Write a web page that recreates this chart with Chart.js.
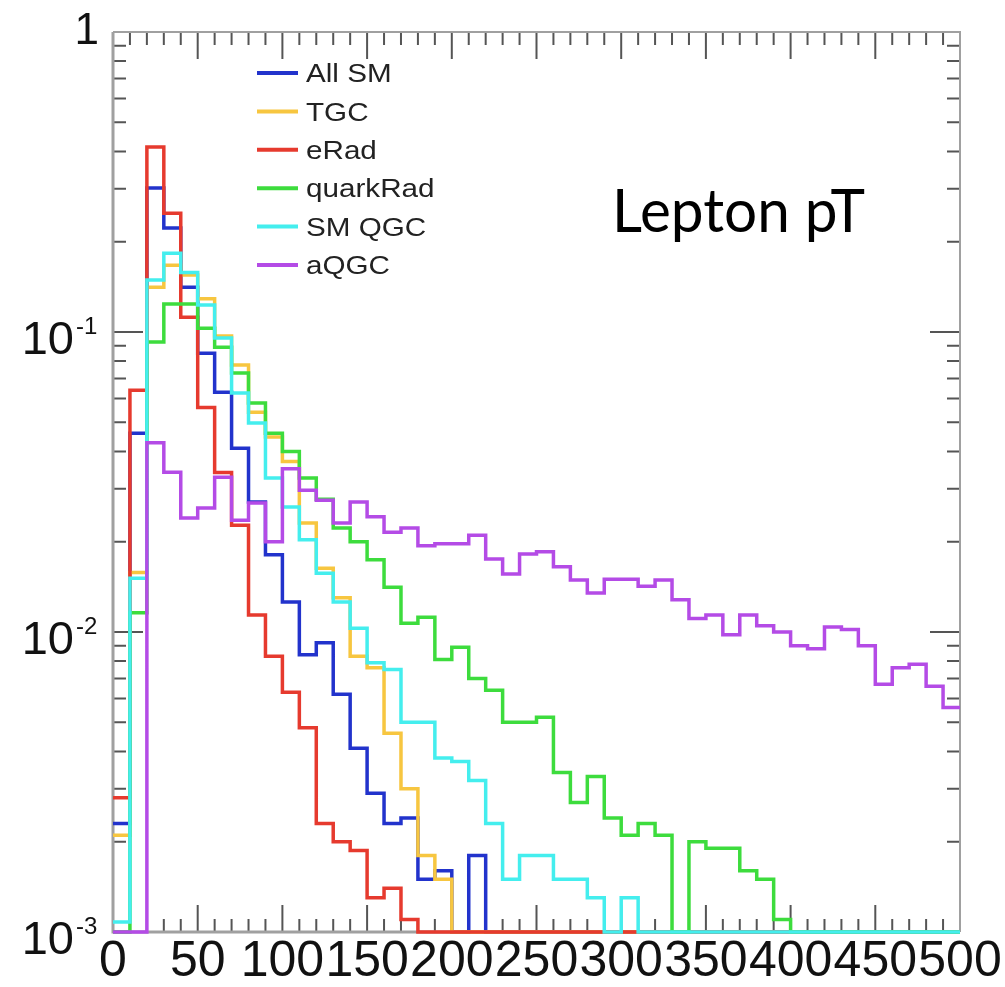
<!DOCTYPE html>
<html>
<head>
<meta charset="utf-8">
<script src="https://cdn.jsdelivr.net/npm/chart.js@4"></script>
<style>
  html, body { margin: 0; padding: 0; background: #fff; }
  canvas { display: block; }
</style>
</head>
<body>
<canvas id="myChart" width="1005" height="987"></canvas>
<script>
// lepton pT histograms, 10 GeV bins from 0 to 500
const binEdges = [0, 10, 20, 30, 40, 50, 60, 70, 80, 90,
  100, 110, 120, 130, 140, 150, 160, 170, 180, 190,
  200, 210, 220, 230, 240, 250, 260, 270, 280, 290,
  300, 310, 320, 330, 340, 350, 360, 370, 380, 390,
  400, 410, 420, 430, 440, 450, 460, 470, 480, 490];
const xMax = 500;

const allSM = [0.0023, 0.046, 0.302, 0.222, 0.141, 0.085, 0.063, 0.041, 0.0271, 0.0181,
  0.0126, 0.0084, 0.0092, 0.0062, 0.0041, 0.0029, 0.0023, 0.0024, 0.0015, 0.0016,
  0.001, 0.0018, 0.001, 0.001, 0.001, 0.001, 0.001, 0.001, 0.001, 0.001,
  0.001, 0.001, 0.001, 0.001, 0.001, 0.001, 0.001, 0.001, 0.001, 0.001,
  0.001, 0.001, 0.001, 0.001, 0.001, 0.001, 0.001, 0.001, 0.001, 0.001];
const tgc = [0.0021, 0.0158, 0.141, 0.167, 0.155, 0.129, 0.097, 0.0776, 0.054, 0.0447,
  0.037, 0.0231, 0.0163, 0.013, 0.0083, 0.0076, 0.0046, 0.0030, 0.0018, 0.0015,
  0.001, 0.001, 0.001, 0.001, 0.001, 0.001, 0.001, 0.001, 0.001, 0.001,
  0.001, 0.001, 0.001, 0.001, 0.001, 0.001, 0.001, 0.001, 0.001, 0.001,
  0.001, 0.001, 0.001, 0.001, 0.001, 0.001, 0.001, 0.001, 0.001, 0.001];
const eRad = [0.0028, 0.064, 0.414, 0.249, 0.112, 0.056, 0.034, 0.0227, 0.0114, 0.0083,
  0.0063, 0.0048, 0.0023, 0.0020, 0.00187, 0.0013, 0.0014, 0.0011, 0.001, 0.001,
  0.001, 0.001, 0.001, 0.001, 0.001, 0.001, 0.001, 0.001, 0.001, 0.001,
  0.001, 0.001, 0.001, 0.001, 0.001, 0.001, 0.001, 0.001, 0.001, 0.001,
  0.001, 0.001, 0.001, 0.001, 0.001, 0.001, 0.001, 0.001, 0.001, 0.001];
const quarkRad = [0.001, 0.0116, 0.0927, 0.124, 0.124, 0.103, 0.089, 0.073, 0.058, 0.046,
  0.040, 0.0326, 0.0277, 0.0222, 0.020, 0.0174, 0.0141, 0.0107, 0.0112, 0.0081,
  0.0089, 0.0070, 0.0064, 0.0050, 0.0050, 0.0052, 0.0034, 0.0027, 0.0033, 0.0024,
  0.0021, 0.0023, 0.0021, 0.001, 0.0020, 0.0019, 0.0019, 0.0016, 0.0015, 0.0011,
  0.001, 0.001, 0.001, 0.001, 0.001, 0.001, 0.001, 0.001, 0.001, 0.001];
const smQGC = [0.00108, 0.0151, 0.149, 0.183, 0.158, 0.123, 0.0955, 0.0626, 0.0497, 0.0326,
  0.0261, 0.0203, 0.0157, 0.0126, 0.0103, 0.0079, 0.0075, 0.0050, 0.0050, 0.0038,
  0.0037, 0.0032, 0.0023, 0.0015, 0.0018, 0.0018, 0.0015, 0.0015, 0.0013, 0.001,
  0.0013, 0.001, 0.001, 0.001, 0.001, 0.001, 0.001, 0.001, 0.001, 0.001,
  0.001, 0.001, 0.001, 0.001, 0.001, 0.001, 0.001, 0.001, 0.001, 0.001];
const aQGC = [0.001, 0.001, 0.0427, 0.0341, 0.024, 0.0259, 0.0328, 0.0236, 0.0269, 0.020,
  0.035, 0.0297, 0.0275, 0.0231, 0.0271, 0.0242, 0.0215, 0.0222, 0.0194, 0.0197,
  0.0197, 0.021, 0.0175, 0.0156, 0.0182, 0.0185, 0.0165, 0.0149, 0.0135, 0.015,
  0.015, 0.0142, 0.0149, 0.0128, 0.0111, 0.0114, 0.0098, 0.0114, 0.0105, 0.0100,
  0.0090, 0.0088, 0.0104, 0.0102, 0.0090, 0.0067, 0.0076, 0.0078, 0.0066, 0.0056];

const seriesNames = ['All SM', 'TGC', 'eRad', 'quarkRad', 'SM QGC', 'aQGC'];
const seriesValues = [allSM, tgc, eRad, quarkRad, smQGC, aQGC];
const seriesColors = ['#2233cc', '#f7c640', '#e63a2e', '#3ddc3d', '#44eeee', '#b44be6'];

const xTickStep = 50;
const yMin = 0.001, yMax = 1;
const yDecades = [0.001, 0.01, 0.1, 1];
const yDecadeLabels = [['10', '-3'], ['10', '-2'], ['10', '-1'], ['1', '']];

function histPoints(values) {
  const pts = values.map((v, i) => ({ x: binEdges[i], y: v }));
  pts.push({ x: xMax, y: values[values.length - 1] });
  return pts;
}

const datasets = seriesNames.map((name, i) => ({
  label: name,
  data: histPoints(seriesValues[i]),
  borderColor: seriesColors[i],
  borderWidth: 3.5,
  pointRadius: 0,
  fill: false,
  stepped: 'before',
  clip: false,
  order: seriesNames.length - 1 - i
}));

// frame and inward ticks, ROOT style
const frame = {
  id: 'frame',
  beforeDatasetsDraw(chart) {
    const { ctx, chartArea: a, scales: { x, y } } = chart;
    ctx.save();
    ctx.strokeStyle = '#555';
    ctx.lineWidth = 2;
    ctx.beginPath();
    for (let v = 10; v < xMax; v += 10) {
      const px = x.getPixelForValue(v);
      const len = v % xTickStep === 0 ? 27 : 13;
      ctx.moveTo(px, a.bottom); ctx.lineTo(px, a.bottom - len);
      ctx.moveTo(px, a.top); ctx.lineTo(px, a.top + len);
    }
    yDecades.forEach((d, k) => {
      if (k < yDecades.length - 1) {
        for (let m = 1; m <= 9; m++) {
          const py = y.getPixelForValue(d * m);
          const len = m === 1 ? 30 : 13;
          if (m === 1 && k === 0) continue;
          ctx.moveTo(a.left, py); ctx.lineTo(a.left + len, py);
          ctx.moveTo(a.right, py); ctx.lineTo(a.right - len, py);
        }
      }
    });
    ctx.stroke();
    ctx.strokeStyle = '#a0a0a0';
    ctx.lineWidth = 3;
    ctx.beginPath();
    ctx.moveTo(a.left, a.top); ctx.lineTo(a.left, a.bottom); ctx.lineTo(a.right, a.bottom);
    ctx.stroke();
    ctx.lineWidth = 2;
    ctx.beginPath();
    ctx.moveTo(a.left, a.top); ctx.lineTo(a.right, a.top); ctx.lineTo(a.right, a.bottom);
    ctx.stroke();
    ctx.restore();
  },
  afterDraw(chart) {
    const { ctx, scales: { y } } = chart;
    ctx.save();
    ctx.fillStyle = '#111';
    // y decade labels with exponents
    yDecades.forEach((d, k) => {
      const py = y.getPixelForValue(d);
      const [base, exp] = yDecadeLabels[k];
      ctx.textBaseline = 'alphabetic';
      if (exp) {
        ctx.font = '47px "Liberation Sans", Arial, sans-serif';
        ctx.textAlign = 'right';
        ctx.fillText(base, 74, py + 22);
        ctx.font = '24px "Liberation Sans", Arial, sans-serif';
        ctx.textAlign = 'left';
        ctx.fillText(exp, 76, py + 2);
      } else {
        ctx.font = '44px "Liberation Sans", Arial, sans-serif';
        ctx.textAlign = 'right';
        ctx.fillText(base, 99, py + 12);
      }
    });

    // legend
    ctx.textAlign = 'left';
    ctx.textBaseline = 'middle';
    chart.data.datasets.forEach((ds, i) => {
      const ly = 73 + i * 38.4;
      ctx.strokeStyle = ds.borderColor;
      ctx.lineWidth = 4;
      ctx.beginPath();
      ctx.moveTo(257, ly); ctx.lineTo(298, ly);
      ctx.stroke();
      ctx.save();
      ctx.translate(306, ly + 2);
      ctx.scale(1.14, 1);
      ctx.font = '26px "Liberation Sans", Arial, sans-serif';
      ctx.fillStyle = '#222';
      ctx.fillText(ds.label, 0, 0);
      ctx.restore();
    });

    // title
    ctx.save();
    ctx.font = '60px Lato, "Open Sans", sans-serif';
    ctx.fillStyle = '#000';
    ctx.textBaseline = 'alphabetic';
    const title = 'Lepton pT';
    const w = ctx.measureText(title).width;
    ctx.translate(612, 232);
    ctx.scale(253 / w, 1);
    ctx.fillText(title, 0, 0);
    ctx.restore();
    ctx.restore();
  }
};

const config = {
  type: 'line',
  data: { datasets: datasets },
  plugins: [frame],
  options: {
    responsive: false,
    animation: false,
    devicePixelRatio: 1,
    layout: { padding: { top: 32, right: 45, left: 0, bottom: 0 } },
    plugins: {
      legend: { display: false },
      tooltip: { enabled: false }
    },
    scales: {
      x: {
        type: 'linear',
        min: 0,
        max: xMax,
        grid: { display: false, drawTicks: false },
        border: { display: false },
        ticks: {
          stepSize: xTickStep,
          autoSkip: false,
          maxRotation: 0,
          padding: 0,
          color: '#111',
          font: { family: '"Liberation Sans", Arial, sans-serif', size: 50 }
        },
        afterFit: (s) => { s.height = 55; }
      },
      y: {
        type: 'logarithmic',
        min: yMin,
        max: yMax,
        grid: { display: false, drawTicks: false },
        border: { display: false },
        ticks: { display: false },
        afterFit: (s) => { s.width = 113; }
      }
    }
  }
};

var myChart = new Chart(document.getElementById('myChart'), config);
</script>
</body>
</html>
